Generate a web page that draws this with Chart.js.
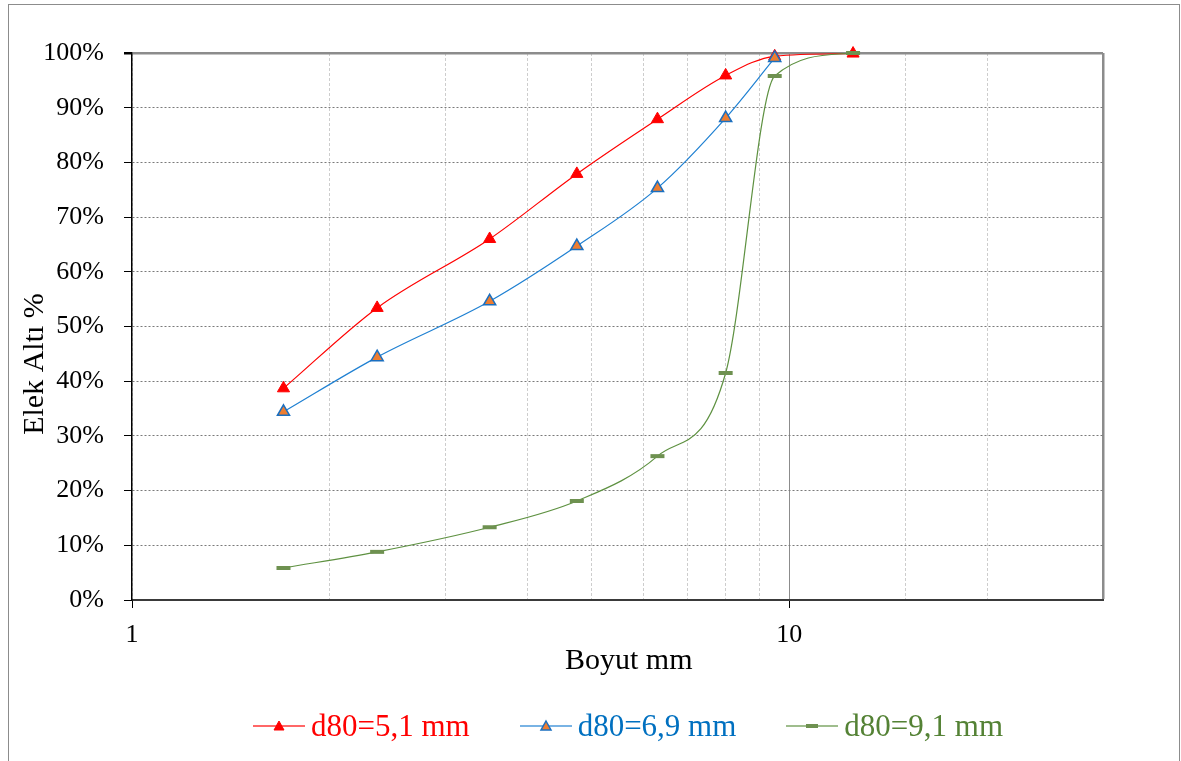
<!DOCTYPE html>
<html>
<head>
<meta charset="utf-8">
<script src="https://cdn.jsdelivr.net/npm/chart.js@4.4.1/dist/chart.umd.min.js"></script>
<style>
body { margin: 0; background: #fff; }
#wrap { position: relative; width: 1181px; height: 761px; overflow: hidden; }
#frame { position: absolute; left: 8px; top: 4px; width: 1172px; height: 800px; border: 1px solid #8c8c8c; box-sizing: border-box; pointer-events: none; }
#legend { position: absolute; top: 708px; left: 0; width: 1256px; display: flex; justify-content: center; gap: 50px; font-family: 'Liberation Serif', serif; font-size: 31px; }
#legend .item { display: flex; align-items: center; gap: 6px; }
</style>
</head>
<body>
<div id="wrap">
  <canvas id="chart" width="1181" height="761"></canvas>
  <div id="frame"></div>
  <div id="legend"></div>
</div>
<script>
// elek acikliklari (mm) ve elek alti yuzdeleri
const sizes = [1.7, 2.36, 3.5, 4.75, 6.3, 8, 9.5, 12.5];
const d80_51 = [38.7, 53.4, 66.0, 77.9, 87.9, 95.9, 99.4, 99.9];
const d80_69 = [34.4, 44.4, 54.6, 64.7, 75.3, 88.1, 99.1, null];
const d80_91 = [5.85, 8.8, 13.3, 18.1, 26.3, 41.5, 95.8, 100];
const seriesNames = ["d80=5,1 mm", "d80=6,9 mm", "d80=9,1 mm"];
const xLabels = [1, 10];
const yTicks = [0, 10, 20, 30, 40, 50, 60, 70, 80, 90, 100];

const FONT = "'Liberation Serif', serif";
const NB = "\u00A0";

function toPoints(values) {
    return sizes.map((s, i) => ({ x: s, y: values[i] }));
}

const styles = [
    { line: "#FF0000", text: "#FF0000", marker: "triangle", fill: "#FF0000", edge: "#FF0000", r: 7, bw: 1 },
    { line: "#1F80D2", text: "#0070C0", marker: "triangle", fill: "#ED7D31", edge: "#1A6FC0", r: 7, bw: 1.5 },
    { line: "#5E9141", text: "#548235", marker: "line", fill: "#6E9150", edge: "#6E9150", r: 7, bw: 4 }
];

const seriesData = [d80_51, d80_69, d80_91];

// green on top, then blue, red at the bottom (like the original)
const datasets = seriesData.map((vals, i) => ({
    label: seriesNames[i],
    data: toPoints(vals),
    borderColor: styles[i].line,
    borderWidth: 1.2,
    backgroundColor: styles[i].fill,
    pointStyle: styles[i].marker,
    pointRadius: styles[i].r,
    pointBackgroundColor: styles[i].fill,
    pointBorderColor: styles[i].edge,
    pointBorderWidth: styles[i].bw,
    cubicInterpolationMode: "monotone",
    clip: false,
    order: 3 - i
}));

const chartCanvas = document.getElementById("chart");

new Chart(chartCanvas, {
    type: "line",
    data: { datasets: datasets },
    options: {
        responsive: false,
        animation: false,
        layout: { padding: { left: 0, right: 78, top: 53, bottom: 81 } },
        plugins: { legend: { display: false }, tooltip: { enabled: false } },
        scales: {
            x: {
                type: "logarithmic",
                min: 1,
                max: 30,
                afterFit: scale => { scale.height = 80; },
                title: {
                    display: true,
                    text: NB.repeat(3) + "Boyut mm",
                    color: "#000",
                    font: { family: FONT, size: 30 },
                    padding: { top: 0, bottom: 1 }
                },
                ticks: {
                    autoSkip: false,
                    maxRotation: 0,
                    color: "#000",
                    padding: 12,
                    font: { family: FONT, size: 26 },
                    callback: v => xLabels.includes(v) ? String(v) : ""
                },
                grid: {
                    color: c => (c.tick && (c.tick.value === 10 || c.tick.value === 30)) ? "#8c8c8c" : "#cdcdcd",
                    lineWidth: c => (c.tick && c.tick.value === 30) ? 2.5 : 1,
                    tickLength: 8,
                    tickColor: c => (c.tick && xLabels.includes(c.tick.value)) ? "#000" : "rgba(0,0,0,0)"
                },
                border: {
                    color: "#3a3a3a",
                    width: 2,
                    dash: c => (c.tick && (c.tick.value === 10 || c.tick.value === 30)) ? [] : [3, 2]
                }
            },
            y: {
                type: "linear",
                min: 0,
                max: 100,
                afterFit: scale => { scale.width = 132; },
                afterBuildTicks: scale => { scale.ticks = yTicks.map(v => ({ value: v })); },
                title: {
                    display: true,
                    text: "Elek Altı %" + NB.repeat(10),
                    color: "#000",
                    font: { family: FONT, size: 30 },
                    padding: { top: 17, bottom: 0 }
                },
                ticks: {
                    color: "#000",
                    padding: 20,
                    font: { family: FONT, size: 26 },
                    callback: v => v + "%"
                },
                grid: {
                    color: c => (c.tick && c.tick.value === 100) ? "#8c8c8c" : "#7a7a7a",
                    lineWidth: c => (c.tick && c.tick.value === 100) ? 2.5 : 1,
                    tickLength: 8,
                    tickColor: "#000"
                },
                border: {
                    color: "#000",
                    width: 1.5,
                    dash: c => (c.tick && c.tick.value === 100) ? [] : [2, 2]
                }
            }
        }
    }
});

// legend below the chart: short line with the marker in the middle, coloured text
const legend = document.getElementById("legend");
seriesNames.forEach((name, i) => {
    const st = styles[i];
    const item = document.createElement("div");
    item.className = "item";
    let mark;
    if (st.marker === "triangle") {
        mark = `<polygon points="26,3 31,12 21,12" fill="${st.fill}" stroke="${st.edge}" stroke-width="${st.bw}"/>`;
    } else {
        mark = `<rect x="20" y="6" width="12" height="4" fill="${st.fill}"/>`;
    }
    item.innerHTML =
        `<svg width="52" height="16"><line x1="0" y1="8" x2="52" y2="8" stroke="${st.line}" stroke-width="1.5" opacity="0.8"/>${mark}</svg>` +
        `<span style="color:${st.text}">${name}</span>`;
    legend.appendChild(item);
});
</script>
</body>
</html>
